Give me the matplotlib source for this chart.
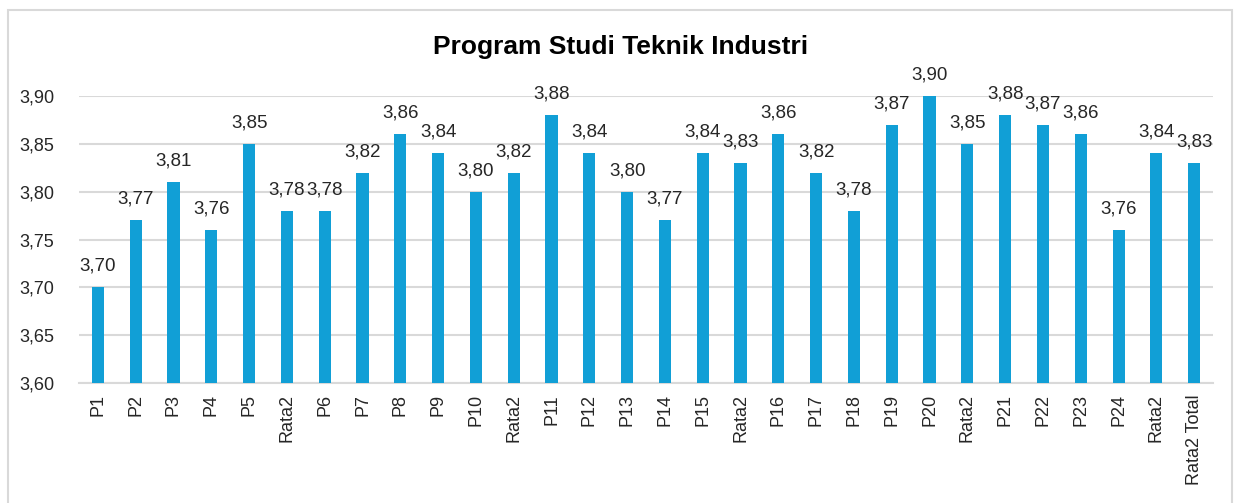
import numpy as np
import matplotlib.pyplot as plt
from matplotlib.patches import Rectangle
from matplotlib.ticker import FuncFormatter

# Data
categories = ['P1', 'P2', 'P3', 'P4', 'P5', 'Rata2',
              'P6', 'P7', 'P8', 'P9', 'P10', 'Rata2',
              'P11', 'P12', 'P13', 'P14', 'P15', 'Rata2',
              'P16', 'P17', 'P18', 'P19', 'P20', 'Rata2',
              'P21', 'P22', 'P23', 'P24', 'Rata2', 'Rata2 Total']
values = [3.70, 3.77, 3.81, 3.76, 3.85, 3.78,
          3.78, 3.82, 3.86, 3.84, 3.80, 3.82,
          3.88, 3.84, 3.80, 3.77, 3.84, 3.83,
          3.86, 3.82, 3.78, 3.87, 3.90, 3.85,
          3.88, 3.87, 3.86, 3.76, 3.84, 3.83]
yticks = [3.60, 3.65, 3.70, 3.75, 3.80, 3.85, 3.90]

plt.rcParams['font.family'] = ['Liberation Sans', 'DejaVu Sans']

fig = plt.figure(figsize=(12.42, 5.03), dpi=100)
ax = fig.add_axes([0.0636, 0.2386, 0.9131, 0.5704])

# chart border
fig.patches.append(Rectangle((8/1242, -0.1), 1224/1242, 1.1 - 10/503,
                             transform=fig.transFigure, fill=False,
                             edgecolor='#d9d9d9', linewidth=1.5))

x = np.arange(len(categories))
bars = ax.bar(x, values, width=0.32, color='#119fd6', zorder=3)

for xi, v in zip(x, values):
    ax.annotate(f'{v:.2f}'.replace('.', ','), (xi, v), xytext=(0, 9),
                textcoords='offset points', ha='center', va='bottom',
                fontsize=13.5, color='#262626', annotation_clip=False)

ax.set_ylim(3.60, 3.90)
ax.set_xlim(-0.5, len(categories) - 0.5)
ax.set_yticks(yticks)
ax.yaxis.set_major_formatter(FuncFormatter(lambda v, p: f'{v:.2f}'.replace('.', ',')))
ax.set_xticks(x)
ax.set_xticklabels(categories, rotation=90)
ax.tick_params(axis='both', length=0, labelsize=13, colors='#262626')
ax.tick_params(axis='y', pad=18)
ax.tick_params(axis='x', pad=8)
ax.grid(axis='y', color='#d9d9d9', linewidth=1.5, zorder=0)
for s in ['top', 'right', 'left']:
    ax.spines[s].set_visible(False)
ax.spines['bottom'].set_color('#d9d9d9')
ax.spines['bottom'].set_linewidth(1.5)

fig.text(0.5, 1 - 47/503, 'Program Studi Teknik Industri', ha='center', va='center',
         fontsize=19, fontweight='bold', color='black')

fig.savefig('out.png', dpi=100)
